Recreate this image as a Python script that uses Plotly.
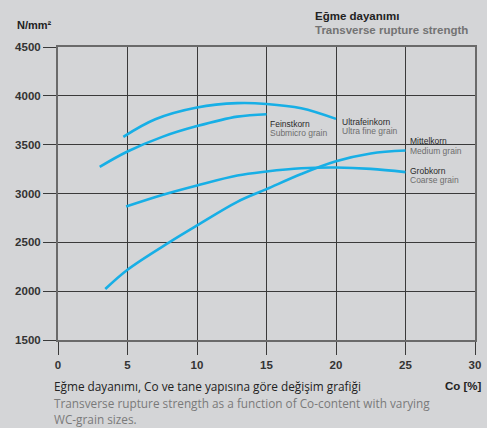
import plotly.graph_objects as go

# Co content [%] vs transverse rupture strength [N/mm²]
ultrafine_x = [4.7, 7.0, 10.0, 12.9, 15.0, 17.5, 20.0]
ultrafine_y = [3580, 3760, 3880, 3925, 3917, 3873, 3764]

submicro_x = [3.0, 5.0, 7.5, 10.0, 12.9, 15.0]
submicro_y = [3273, 3430, 3580, 3690, 3787, 3812]

coarse_x = [4.9, 7.5, 10.0, 12.9, 15.0, 17.5, 20.0, 22.5, 25.0]
coarse_y = [2867, 2985, 3082, 3184, 3225, 3258, 3266, 3252, 3219]

medium_x = [3.4, 5.0, 8.0, 10.0, 12.9, 15.0, 17.5, 20.0, 22.5, 25.0]
medium_y = [2022, 2220, 2500, 2673, 2915, 3045, 3200, 3330, 3410, 3440]

x_ticks = [0, 5, 10, 15, 20, 25, 30]
y_ticks = [1500, 2000, 2500, 3000, 3500, 4000, 4500]

# curve labels: x, y of German line, y of English line
label_x = [15.14, 20.3, 25.2, 25.2]
label_de = ["Feinstkorn", "Ultrafeinkorn", "Mittelkorn", "Grobkorn"]
label_en = ["Submicro grain", "Ultra fine grain", "Medium grain", "Coarse grain"]
label_de_y = [3712, 3732, 3538, 3230]
label_en_y = [3619, 3640, 3435, 3138]

blue = "#17afe6"
bg = "#d4d5d7"
grid = "#3a3a3a"
dark = "#222222"
gray = "#737373"
arial = "Liberation Sans, Arial"

W, H = 487, 428
L, R, T, B = 58, 6, 47, 88
pw, ph = W - L - R, H - T - B


def px(x):
    return (x - L) / pw


def py(y):
    return (H - B - y) / ph


fig = go.Figure()
for xs, ys in [(ultrafine_x, ultrafine_y), (submicro_x, submicro_y),
               (coarse_x, coarse_y), (medium_x, medium_y)]:
    fig.add_trace(go.Scatter(x=xs, y=ys, mode="lines",
                             line=dict(color=blue, width=2.6, shape="spline", smoothing=1.0),
                             showlegend=False, hoverinfo="skip"))

for lx, de, en, dy, ey in zip(label_x, label_de, label_en, label_de_y, label_en_y):
    fig.add_annotation(x=lx, y=dy, xref="x", yref="y", xanchor="left", yanchor="middle",
                       text=de, showarrow=False,
                       font=dict(family=arial, size=8.5, color="#2a2a2a"))
    fig.add_annotation(x=lx, y=ey, xref="x", yref="y", xanchor="left", yanchor="middle",
                       text=en, showarrow=False,
                       font=dict(family=arial, size=8.5, color="#6e6e6e"))

# title, unit and axis caption
texts = [
    (317, 16, "left", "<b>Eğme dayanımı</b>", arial, 11.5, dark),
    (317, 30, "left", "<b>Transverse rupture strength</b>", arial, 11.5, gray),
    (14, 25, "left", "<b>N/mm²</b>", arial, 11, dark),
    (490, 386, "right", "<b>Co [%]</b>", arial, 11.5, dark),
    (52, 386, "left", "Eğme dayanımı, Co ve tane yapısına göre değişim grafiği", "Open Sans", 11.8, dark),
    (52, 403, "left", "Transverse rupture strength as a function of Co-content with varying", "Open Sans", 11.8, "#7a7a7a"),
    (52, 419, "left", "WC-grain sizes.", "Open Sans", 11.8, "#7a7a7a"),
]
for tx, ty, anchor, text, fam, size, color in texts:
    fig.add_annotation(x=px(tx), y=py(ty), xref="paper", yref="paper",
                       xanchor=anchor, yanchor="middle", text=text, showarrow=False,
                       font=dict(family=fam, size=size, color=color))

fig.update_layout(
    width=W, height=H,
    margin=dict(l=L, r=R, t=T, b=B),
    paper_bgcolor=bg, plot_bgcolor=bg,
    font=dict(family=arial, color="#333"),
)
axis_style = dict(showgrid=True, gridcolor=grid, gridwidth=1.2,
                  showline=True, mirror=True, linecolor="#6a6a6a", linewidth=2,
                  ticks="outside", ticklen=13, tickcolor=grid, tickwidth=1.2,
                  tickfont=dict(size=11.5, color="#333"), zeroline=False, fixedrange=True)
fig.update_xaxes(range=[0, 30], tickvals=x_ticks, ticktext=[f"<b>{v}</b>" for v in x_ticks], **axis_style)
fig.update_yaxes(range=[1500, 4500], tickvals=y_ticks, ticktext=[f"<b>{v}</b>" for v in y_ticks], **axis_style)

fig.write_html("out.html", config={"displayModeBar": False},
               post_script="document.body.style.margin='0';document.body.style.overflow='hidden';")
